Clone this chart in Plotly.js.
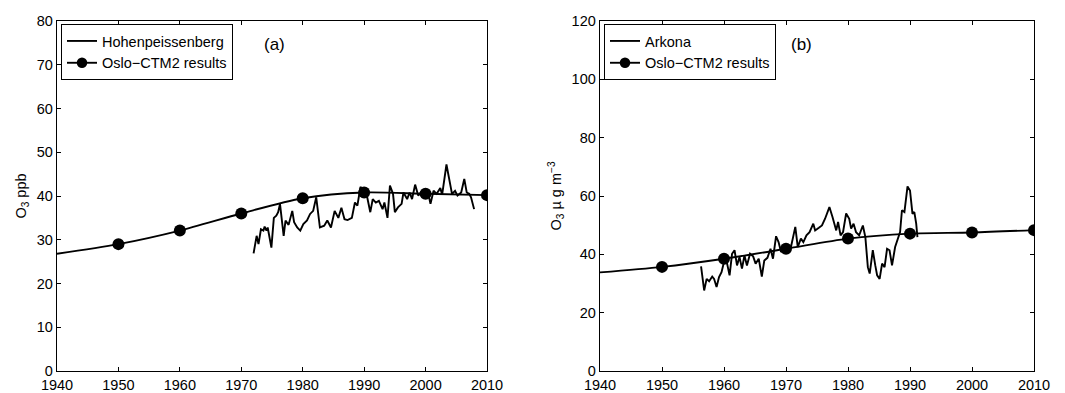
<!DOCTYPE html>
<html>
<head>
<meta charset="utf-8">
<script src="https://cdn.plot.ly/plotly-3.0.1.min.js"></script>
<style>
  html, body { margin: 0; padding: 0; background: #fff; }
  #chart { width: 1065px; height: 393px; }
</style>
</head>
<body>
<div id="chart"></div>
<script>
// ---- Data ----
const modelYears = [1940, 1950, 1960, 1970, 1980, 1990, 2000, 2010];
const modelHohen = [26.8, 29.0, 32.1, 36.0, 39.5, 40.8, 40.5, 40.2];
const modelArkona = [33.8, 35.7, 38.5, 41.9, 45.4, 47.1, 47.5, 48.3];

const hohenYears = [1972.0,1972.5,1972.8,1973.2,1973.6,1973.8,1974.1,1974.3,1974.9,1975.3,1975.7,1976.0,1976.3,1976.9,1977.2,1977.7,1978.3,1978.6,1979.1,1979.6,1980.1,1980.7,1981.2,1981.7,1982.2,1982.8,1983.5,1984.0,1984.6,1985.2,1985.8,1986.3,1986.8,1987.3,1988.0,1988.5,1988.9,1989.4,1990.0,1990.5,1991.0,1991.4,1991.9,1992.4,1993.0,1993.3,1993.8,1994.2,1994.7,1995.0,1995.5,1996.1,1996.4,1997.0,1997.4,1997.8,1998.3,1998.8,1999.4,1999.9,2000.4,2000.8,2001.3,2001.8,2002.4,2002.7,2003.4,2003.9,2004.3,2004.8,2005.2,2005.8,2006.3,2006.7,2007.1,2007.4,2007.9];
const hohenO3 = [26.9,30.9,29.0,32.4,32.1,33.0,32.1,32.8,28.2,35.0,35.5,36.3,38.2,30.9,34.4,33.4,36.6,34.0,32.8,32.1,33.6,34.4,35.9,36.6,39.7,32.8,33.2,34.4,32.8,36.6,35.0,37.3,34.7,34.5,35.0,38.5,37.8,42.1,40.5,39.7,36.3,39.3,38.5,38.9,37.0,38.5,35.0,42.4,40.5,36.3,37.4,38.2,40.8,39.3,40.8,39.3,42.6,40.1,41.1,39.7,40.8,38.2,41.2,40.5,41.8,40.3,47.2,43.5,40.5,41.2,40.1,40.8,43.9,40.8,40.5,39.7,37.0];

const arkonaYears = [1956.3,1956.5,1956.8,1957.2,1957.6,1958.1,1958.4,1958.8,1959.2,1959.6,1960.0,1960.5,1960.9,1961.3,1961.7,1962.1,1962.5,1962.9,1963.3,1963.7,1964.2,1964.7,1965.1,1965.6,1966.1,1966.5,1967.0,1967.5,1967.9,1968.4,1968.8,1969.2,1969.7,1970.3,1970.8,1971.5,1971.9,1972.4,1972.8,1973.3,1973.8,1974.4,1974.7,1975.3,1975.8,1976.3,1977.0,1977.5,1978.1,1978.4,1978.8,1979.2,1979.7,1980.2,1980.5,1980.9,1981.3,1981.8,1982.4,1982.8,1983.2,1983.5,1984.0,1984.4,1984.7,1985.1,1985.5,1985.9,1986.3,1986.7,1987.1,1987.6,1988.1,1988.4,1988.7,1989.1,1989.6,1990.0,1990.4,1990.7,1991.0,1991.2];
const arkonaO3 = [35.9,32.2,27.6,31.6,30.8,32.4,31.6,28.8,32.2,33.9,37.4,36.8,32.8,40.2,41.4,36.2,39.1,35.1,39.6,36.2,40.2,39.3,36.8,38.5,32.4,37.9,38.8,41.9,38.5,46.2,44.2,40.8,42.3,41.4,42.5,49.4,42.5,45.4,44.2,46.5,47.6,50.5,48.2,49.1,49.9,52.2,56.2,52.8,48.2,51.1,46.5,47.6,54.0,52.2,48.8,50.5,47.6,46.5,49.9,45.9,35.6,33.4,41.4,36.2,32.8,31.6,36.8,35.6,41.9,41.4,36.2,42.5,45.9,47.6,55.1,54.5,63.3,61.9,53.9,54.5,50.5,45.9];

const xTicks = [1940, 1950, 1960, 1970, 1980, 1990, 2000, 2010];
const yTicksA = [0, 10, 20, 30, 40, 50, 60, 70, 80];
const yTicksB = [0, 20, 40, 60, 80, 100, 120];

const nameHohen = 'Hohenpeissenberg';
const nameArkona = 'Arkona';
const nameModel = 'Oslo\u2212CTM2 results';

// ---- Styling ----
const FONT = 'Liberation Sans, Arial, Helvetica, sans-serif';
const markerSizes = modelYears.map(y => (y === modelYears[0] ? 0 : 12));

const traces = [
  { x: hohenYears, y: hohenO3, type: 'scatter', mode: 'lines', name: nameHohen,
    line: { color: '#000', width: 1.9 }, xaxis: 'x', yaxis: 'y', legend: 'legend' },
  { x: modelYears, y: modelHohen, type: 'scatter', mode: 'lines+markers', name: nameModel,
    line: { color: '#000', width: 1.9, shape: 'spline', smoothing: 0.8 },
    marker: { color: '#000', size: markerSizes, opacity: 1, line: { width: 0 } },
    xaxis: 'x', yaxis: 'y', legend: 'legend' },
  { x: arkonaYears, y: arkonaO3, type: 'scatter', mode: 'lines', name: nameArkona,
    line: { color: '#000', width: 1.9 }, xaxis: 'x2', yaxis: 'y2', legend: 'legend2' },
  { x: modelYears, y: modelArkona, type: 'scatter', mode: 'lines+markers', name: nameModel,
    line: { color: '#000', width: 1.9, shape: 'spline', smoothing: 0.8 },
    marker: { color: '#000', size: markerSizes, opacity: 1, line: { width: 0 } },
    xaxis: 'x2', yaxis: 'y2', legend: 'legend2' }
];

const axisCommon = {
  showgrid: false, zeroline: false, showline: true, linecolor: '#000', linewidth: 1.3,
  mirror: 'ticks', ticks: 'inside', ticklen: 4, tickwidth: 1, tickcolor: '#000',
  tickfont: { family: FONT, size: 14.5, color: '#000' }
};

const W = 1065, ML = 57, MR = 31;
const pw = W - ML - MR;
const legendCommon = {
  bgcolor: '#fff', bordercolor: '#000', borderwidth: 1,
  font: { family: FONT, size: 14.5, color: '#000' },
  xanchor: 'left', yanchor: 'top', tracegroupgap: 0, itemwidth: 30
};

const layout = {
  width: 1065, height: 393,
  margin: { l: ML, r: MR, t: 21, b: 22 },
  paper_bgcolor: '#fff', plot_bgcolor: '#fff',
  font: { family: FONT, size: 14, color: '#000' },
  xaxis: Object.assign({}, axisCommon, { domain: [0, 430 / pw], range: [1940, 2010],
    tickvals: xTicks, ticktext: xTicks.map(String) }),
  yaxis: Object.assign({}, axisCommon, { range: [0, 80], tickvals: yTicksA,
    title: { text: 'O<sub>3</sub> ppb', font: { family: FONT, size: 14.5, color: '#000' }, standoff: 6 } }),
  xaxis2: Object.assign({}, axisCommon, { domain: [543 / pw, 1], range: [1940, 2010], anchor: 'y2',
    tickvals: xTicks, ticktext: xTicks.map(String) }),
  yaxis2: Object.assign({}, axisCommon, { range: [0, 120], tickvals: yTicksB, anchor: 'x2',
    title: { text: 'O<sub>3</sub> \u00b5 g m<sup>\u22123</sup>', font: { family: FONT, size: 14.5, color: '#000' }, standoff: 6 } }),
  legend: Object.assign({}, legendCommon, { x: 4 / pw, y: (371 - 24) / 350 }),
  legend2: Object.assign({}, legendCommon, { x: 547 / pw, y: (371 - 24) / 350 }),
  showlegend: true,
  annotations: [
    { text: '(a)', xref: 'paper', yref: 'paper', x: (262 - ML) / pw, y: (371 - 44) / 350,
      yanchor: 'middle', showarrow: false, font: { family: FONT, size: 17, color: '#000' } },
    { text: '(b)', xref: 'paper', yref: 'paper', x: (814 - ML) / pw, y: (371 - 44) / 350,
      yanchor: 'middle', showarrow: false, font: { family: FONT, size: 17, color: '#000' } }
  ]
};

Plotly.newPlot('chart', traces, layout, { displayModeBar: false, staticPlot: true });
</script>
</body>
</html>
